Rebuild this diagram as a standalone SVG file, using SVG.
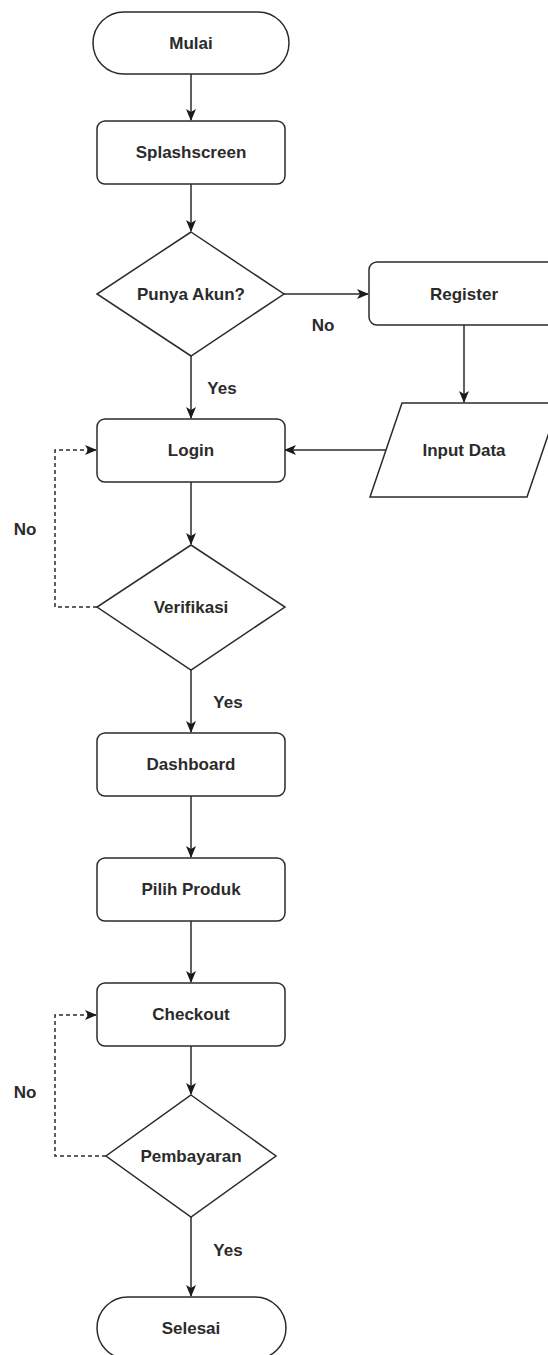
<svg xmlns="http://www.w3.org/2000/svg" width="548" height="1355" viewBox="0 0 548 1355">
<style>
.shape{fill:#ffffff;stroke:#2b2b2b;stroke-width:1.5}
.edge{fill:none;stroke:#2b2b2b;stroke-width:1.5}
.dash{stroke-dasharray:4 3}
text{font-family:"Liberation Sans",Arial,sans-serif;font-weight:bold;font-size:17px;fill:#2b2b2b;text-anchor:middle;dominant-baseline:central}
</style>
<defs>
<marker id="arr" viewBox="0 0 12 12" refX="11" refY="6" markerWidth="12" markerHeight="12" markerUnits="userSpaceOnUse" orient="auto">
<path d="M0,1 L12,6 L0,11 L3,6 z" fill="#1a1a1a"/>
</marker>
</defs>
<rect width="548" height="1355" fill="#ffffff"/>
<g id="connectors">
<path class="edge" d="M191,74 V120" marker-end="url(#arr)"/>
<path class="edge" d="M191,184 V231" marker-end="url(#arr)"/>
<path class="edge" d="M284,294 H368" marker-end="url(#arr)"/>
<path class="edge" d="M191,356 V418" marker-end="url(#arr)"/>
<path class="edge" d="M464,325 V402" marker-end="url(#arr)"/>
<path class="edge" d="M386,450 H285" marker-end="url(#arr)"/>
<path class="edge" d="M191,482 V544" marker-end="url(#arr)"/>
<path class="edge dash" d="M97,607 H55 V450 H96" marker-end="url(#arr)"/>
<path class="edge" d="M191,670 V732" marker-end="url(#arr)"/>
<path class="edge" d="M191,796 V857" marker-end="url(#arr)"/>
<path class="edge" d="M191,921 V982" marker-end="url(#arr)"/>
<path class="edge" d="M191,1046 V1094" marker-end="url(#arr)"/>
<path class="edge dash" d="M106,1156 H55 V1015 H96" marker-end="url(#arr)"/>
<path class="edge" d="M191,1217 V1296" marker-end="url(#arr)"/>
<text x="323" y="325">No</text>
<text x="222" y="388">Yes</text>
<text x="25" y="529">No</text>
<text x="228" y="702">Yes</text>
<text x="25" y="1092">No</text>
<text x="228" y="1250">Yes</text>
</g>
<g id="mulai">
<rect class="shape" x="93" y="12" width="196" height="62" rx="31"/>
<text x="191" y="43">Mulai</text>
</g>
<g id="splashscreen">
<rect class="shape" x="97" y="121" width="188" height="63" rx="8"/>
<text x="191" y="152.5">Splashscreen</text>
</g>
<g id="punya-akun">
<polygon class="shape" points="191,232 284,294 191,356 97,294"/>
<text x="191" y="294">Punya Akun?</text>
</g>
<g id="register">
<rect class="shape" x="369" y="262" width="190" height="63" rx="8"/>
<text x="464" y="294">Register</text>
</g>
<g id="input-data">
<polygon class="shape" points="402,403 559,403 527,497 370,497"/>
<text x="464" y="450">Input Data</text>
</g>
<g id="login">
<rect class="shape" x="97" y="419" width="188" height="63" rx="8"/>
<text x="191" y="450.5">Login</text>
</g>
<g id="verifikasi">
<polygon class="shape" points="191,545 285,607 191,670 97,607"/>
<text x="191" y="607">Verifikasi</text>
</g>
<g id="dashboard">
<rect class="shape" x="97" y="733" width="188" height="63" rx="8"/>
<text x="191" y="764.5">Dashboard</text>
</g>
<g id="pilih-produk">
<rect class="shape" x="97" y="858" width="188" height="63" rx="8"/>
<text x="191" y="889.5">Pilih Produk</text>
</g>
<g id="checkout">
<rect class="shape" x="97" y="983" width="188" height="63" rx="8"/>
<text x="191" y="1014.5">Checkout</text>
</g>
<g id="pembayaran">
<polygon class="shape" points="191,1095 276,1156 191,1217 106,1156"/>
<text x="191" y="1156">Pembayaran</text>
</g>
<g id="selesai">
<rect class="shape" x="97" y="1297" width="189" height="62" rx="31"/>
<text x="191" y="1328">Selesai</text>
</g>
</svg>
